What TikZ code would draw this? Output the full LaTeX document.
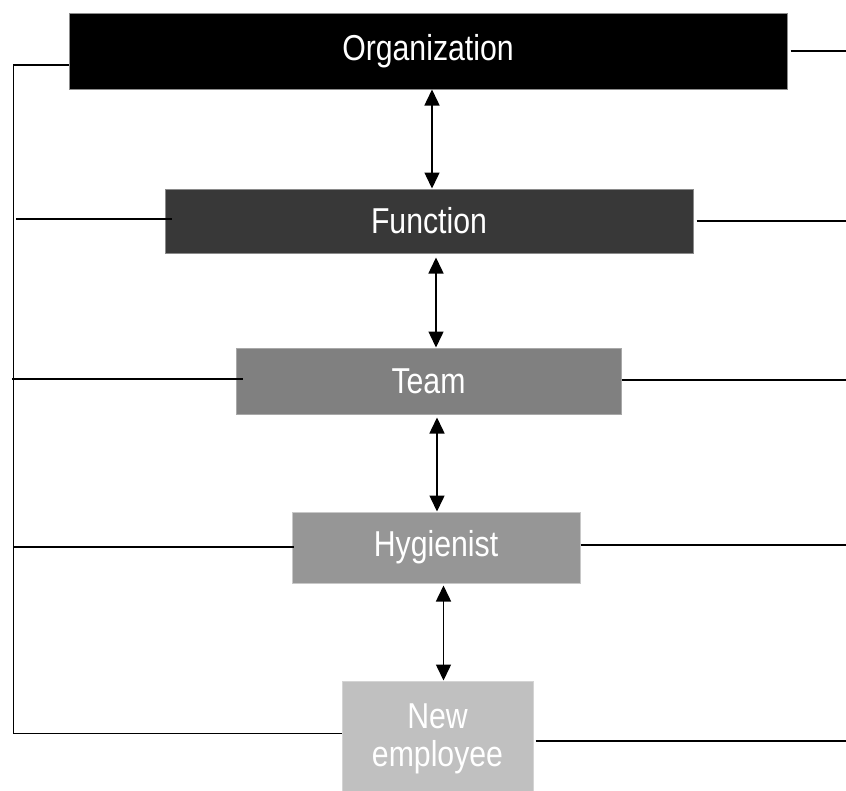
\documentclass[tikz,border=0pt]{standalone}
\usepackage{fontspec}
\setmainfont{Liberation Sans}[FakeStretch=0.84]
\usetikzlibrary{arrows.meta,calc}
\definecolor{cOrgB}{HTML}{8C8C8C}
\definecolor{cFun}{HTML}{383838}
\definecolor{cFunB}{HTML}{8A8A8A}
\definecolor{cTeam}{HTML}{808080}
\definecolor{cTeamB}{HTML}{A8A8A8}
\definecolor{cHyg}{HTML}{969696}
\definecolor{cHygB}{HTML}{C8C8C8}
\definecolor{cNew}{HTML}{C0C0C0}
\definecolor{cNewB}{HTML}{D4D4D4}
\begin{document}
\begin{tikzpicture}[x=1pt,y=-1pt,
  box/.style={rectangle, inner sep=0pt, line width=1pt, text=white,
    font=\fontsize{36}{38}\selectfont},
  conn/.style={line width=1.5pt, black},
  biarrow/.style={line width=1.5pt, black,
    {Triangle[width=15pt,length=16pt]}-{Triangle[width=15pt,length=16pt]}}]
\useasboundingbox (0,0) rectangle (846,790);

\node[box, fill=black, draw=cOrgB, minimum width=718pt, minimum height=76pt] (org) at (428,51) {Organization};
\node[box, fill=cFun, draw=cFunB, minimum width=528pt, minimum height=64pt] (fun) at (429,221) {Function};
\node[box, fill=cTeam, draw=cTeamB, minimum width=385pt, minimum height=66pt] (team) at (428.5,381) {Team};
\node[box, fill=cHyg, draw=cHygB, minimum width=288pt, minimum height=71pt] (hyg) at (436,547.5) {Hygienist};
\node[box, fill=cNew, draw=cNewB, minimum width=191pt, minimum height=115pt, align=center] (new) at (437.5,738.5) {New\\employee};

% left-side tie lines
\coordinate (L1) at (13.5,65);
\coordinate (L2) at (16,219);
\coordinate (L3) at (12,379);
\coordinate (L4) at (13.5,547);
\coordinate (L5) at (13.5,733.5);
% right-side free ends
\coordinate (R1) at (846,51);
\coordinate (R2) at (846,221);
\coordinate (R3) at (846,380);
\coordinate (R4) at (846,545);
\coordinate (R5) at (846,741);

\draw[conn] (org.west |- L1) -- (L1) -- (L5) -- (new.west |- L5);
\draw[conn] (L2) -- ($(fun.west |- L2)+(7,0)$);
\draw[conn] (L3) -- ($(team.west |- L3)+(7,0)$);
\draw[conn] (L4) -- ($(hyg.west |- L4)+(2,0)$);

\draw[conn] ($(org.east |- R1)+(3,0)$) -- (R1);
\draw[conn] ($(fun.east |- R2)+(3,0)$) -- (R2);
\draw[conn] (team.east |- R3) -- (R3);
\draw[conn] (hyg.east |- R4) -- (R4);
\draw[conn] ($(new.east |- R5)+(2,0)$) -- (R5);

% vertical two-way arrows
\coordinate (A1) at (432,0);
\coordinate (A2) at (436,0);
\coordinate (A3) at (437,0);
\coordinate (A4) at (443.5,0);
\draw[biarrow] (org.south -| A1) -- (fun.north -| A1);
\draw[biarrow] ($(fun.south -| A2)+(0,4)$) -- (team.north -| A2);
\draw[biarrow] ($(team.south -| A3)+(0,3)$) -- (hyg.north -| A3);
\draw[biarrow] ($(hyg.south -| A4)+(0,2)$) -- (new.north -| A4);
\end{tikzpicture}
\end{document}
